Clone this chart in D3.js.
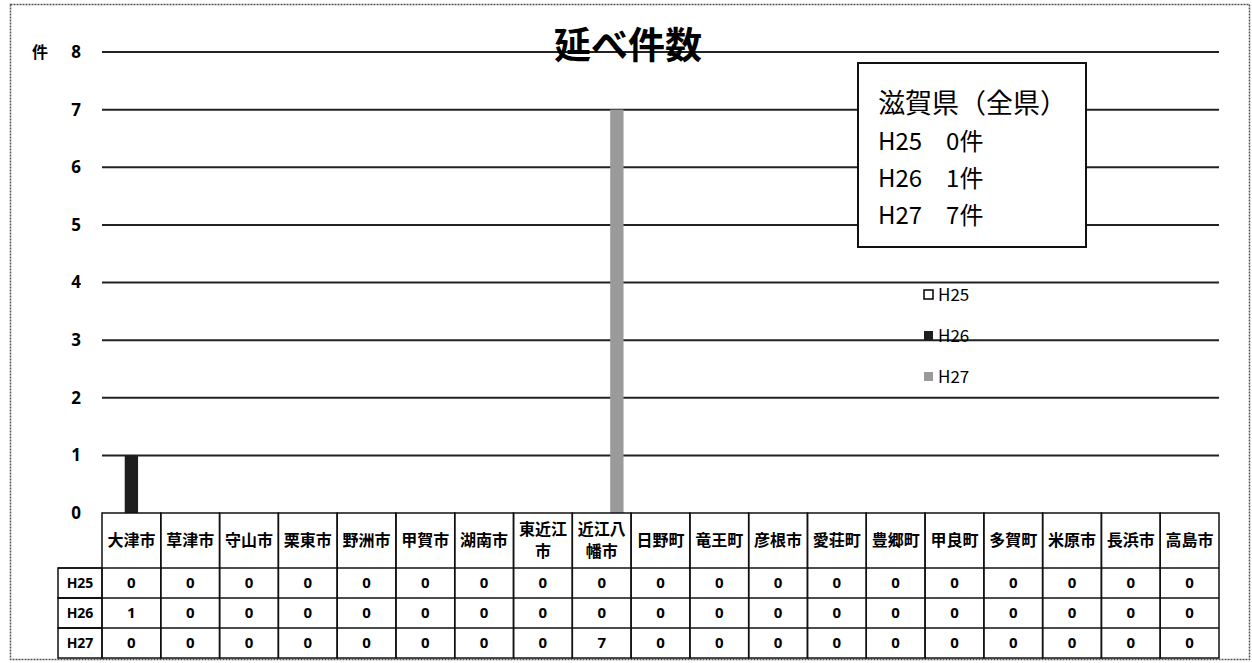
<!DOCTYPE html>
<html>
<head>
<meta charset="utf-8">
<script src="https://cdn.jsdelivr.net/npm/d3@7"></script>
<style>
  body { margin: 0; background: #fff; }
  svg { font-family: "Noto Sans CJK JP", "Noto Sans", sans-serif; }
</style>
</head>
<body>
<script>
// data
var cities = ["大津市","草津市","守山市","栗東市","野洲市","甲賀市","湖南市","東近江市","近江八幡市",
              "日野町","竜王町","彦根市","愛荘町","豊郷町","甲良町","多賀町","米原市","長浜市","高島市"];
var cityLines = {"東近江市": ["東近江", "市"], "近江八幡市": ["近江八", "幡市"]};
var years = ["H25", "H26", "H27"];
var h25 = [0,0,0,0,0,0,0,0,0,0,0,0,0,0,0,0,0,0,0];
var h26 = [1,0,0,0,0,0,0,0,0,0,0,0,0,0,0,0,0,0,0];
var h27 = [0,0,0,0,0,0,0,0,7,0,0,0,0,0,0,0,0,0,0];
var yTicks = [0,1,2,3,4,5,6,7,8];
var totals = ["H25　0件", "H26　1件", "H27　7件"];

var series = [h25, h26, h27];
var colors = {"H25": "#fff", "H26": "#1e1e1e", "H27": "#9a9a9a"};

var W = 1252, H = 663;
var plotLeft = 102, plotRight = 1219, plotTop = 52, zeroY = 513;
var numFont = "'Noto Sans', 'Open Sans', sans-serif";

var svg = d3.select("body").append("svg")
    .attr("width", W)
    .attr("height", H);

// outer frame
svg.append("rect")
    .attr("x", 10.5).attr("y", 4.5)
    .attr("width", 1239).attr("height", 655)
    .attr("fill", "none")
    .attr("stroke", "#555")
    .attr("stroke-width", 1.5)
    .attr("stroke-dasharray", "2,1");

var x = d3.scaleBand().domain(cities).range([plotLeft, plotRight]);
var xs = d3.scaleBand().domain(years).range([0, x.bandwidth()]).paddingInner(0.12).paddingOuter(0.5);
var y = d3.scaleLinear().domain([0, 8]).range([zeroY, plotTop]);

// gridlines
svg.append("g")
  .selectAll("line")
  .data(yTicks.filter(function(d) { return d > 0; }))
  .enter().append("line")
    .attr("x1", plotLeft).attr("x2", plotRight)
    .attr("y1", function(d) { return y(d); })
    .attr("y2", function(d) { return y(d); })
    .attr("stroke", "#222")
    .attr("stroke-width", 2);

// y axis labels
svg.append("g")
  .selectAll("text")
  .data(yTicks)
  .enter().append("text")
    .attr("x", 76)
    .attr("y", function(d) { return y(d); })
    .attr("dy", "0.35em")
    .attr("text-anchor", "middle")
    .attr("font-size", 17)
    .attr("font-weight", "bold")
    .attr("font-family", numFont)
    .text(function(d) { return d; });

svg.append("text")
    .attr("x", 40).attr("y", y(8))
    .attr("dy", "0.35em")
    .attr("text-anchor", "middle")
    .attr("font-size", 16)
    .attr("font-weight", "bold")
    .text("件");

// bars
var groups = svg.append("g")
  .selectAll("g")
  .data(cities)
  .enter().append("g")
    .attr("transform", function(d) { return "translate(" + x(d) + ",0)"; });

groups.selectAll("rect")
  .data(function(d, i) {
    return years.map(function(yr, j) { return {year: yr, value: series[j][i]}; })
      .filter(function(e) { return e.value > 0; });
  })
  .enter().append("rect")
    .attr("x", function(d) { return xs(d.year); })
    .attr("width", xs.bandwidth())
    .attr("y", function(d) { return y(d.value); })
    .attr("height", function(d) { return zeroY - y(d.value); })
    .attr("fill", function(d) { return colors[d.year]; })
    .attr("stroke", function(d) { return d.year === "H25" ? "#000" : "none"; });

// title
svg.append("text")
    .attr("x", 628).attr("y", 46)
    .attr("dy", "0.35em")
    .attr("text-anchor", "middle")
    .attr("font-size", 37)
    .attr("font-weight", "bold")
    .text("延べ件数");

// total box
var box = svg.append("g").attr("transform", "translate(858,63)");
box.append("rect")
    .attr("width", 228).attr("height", 184)
    .attr("fill", "#fff")
    .attr("stroke", "#111")
    .attr("stroke-width", 2);
box.append("text")
    .attr("x", 20).attr("y", 50)
    .attr("font-size", 27)
    .text("滋賀県（全県）");
box.selectAll(".tot")
  .data(totals)
  .enter().append("text")
    .attr("class", "tot")
    .attr("x", 20)
    .attr("y", function(d, i) { return 87 + i * 37; })
    .attr("font-size", 24)
    .text(function(d) { return d; });

// series legend
var legend = svg.append("g")
  .selectAll("g")
  .data(years)
  .enter().append("g")
    .attr("transform", function(d, i) { return "translate(924," + (295 + i * 41) + ")"; });

legend.append("rect")
    .attr("x", 0).attr("y", -5)
    .attr("width", 9).attr("height", 9)
    .attr("fill", function(d) { return colors[d]; })
    .attr("stroke", function(d) { return d === "H25" ? "#000" : "none"; })
    .attr("stroke-width", 1.5);

legend.append("text")
    .attr("x", 14).attr("y", 0)
    .attr("dy", "0.35em")
    .attr("font-size", 17)
    .text(function(d) { return d; });

// data table
var headerBottom = 568, rowH = 30;
var table = svg.append("g");

// header / column cells
table.selectAll(".hdr")
  .data(cities)
  .enter().append("rect")
    .attr("x", function(d) { return x(d); })
    .attr("y", zeroY)
    .attr("width", x.bandwidth())
    .attr("height", headerBottom - zeroY + rowH * 3)
    .attr("fill", "none")
    .attr("stroke", "#111")
    .attr("stroke-width", 1.5);

table.selectAll(".hname")
  .data(cities)
  .enter().append("text")
    .attr("text-anchor", "middle")
    .attr("font-size", 16)
    .attr("font-weight", "bold")
    .each(function(d) {
      var lines = cityLines[d] || [d];
      var cy = (zeroY + headerBottom) / 2;
      var start = cy - (lines.length - 1) * 11;
      d3.select(this).selectAll("tspan")
        .data(lines)
        .enter().append("tspan")
          .attr("x", x(d) + x.bandwidth() / 2)
          .attr("y", function(t, k) { return start + k * 22; })
          .attr("dy", "0.35em")
          .text(function(t) { return t; });
    });

// row label cells
table.selectAll(".rowlab")
  .data(years)
  .enter().append("rect")
    .attr("x", 58)
    .attr("y", function(d, i) { return headerBottom + i * rowH; })
    .attr("width", plotLeft - 58)
    .attr("height", rowH)
    .attr("fill", "none")
    .attr("stroke", "#111")
    .attr("stroke-width", 1.5);

table.selectAll(".rowtxt")
  .data(years)
  .enter().append("text")
    .attr("x", 80)
    .attr("y", function(d, i) { return headerBottom + i * rowH + rowH / 2; })
    .attr("dy", "0.35em")
    .attr("text-anchor", "middle")
    .attr("font-size", 14)
    .attr("font-weight", "bold")
    .attr("font-family", numFont)
    .text(function(d) { return d; });

// row lines
table.selectAll(".rline")
  .data([0, 1, 2])
  .enter().append("line")
    .attr("x1", 58).attr("x2", plotRight)
    .attr("y1", function(d) { return headerBottom + d * rowH; })
    .attr("y2", function(d) { return headerBottom + d * rowH; })
    .attr("stroke", "#111")
    .attr("stroke-width", 1.5);

// values
years.forEach(function(yr, j) {
  table.append("g")
    .selectAll("text")
    .data(series[j])
    .enter().append("text")
      .attr("x", function(d, i) { return x(cities[i]) + x.bandwidth() / 2; })
      .attr("y", headerBottom + j * rowH + rowH / 2)
      .attr("dy", "0.35em")
      .attr("text-anchor", "middle")
      .attr("font-size", 15)
      .attr("font-weight", "bold")
      .attr("font-family", numFont)
      .text(function(d) { return d; });
});
</script>
</body>
</html>
